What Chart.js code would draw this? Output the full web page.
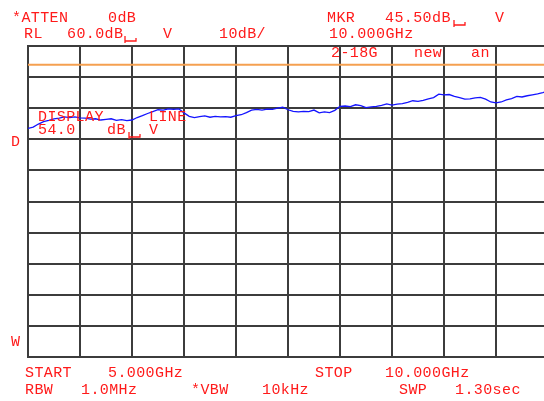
<!DOCTYPE html>
<html>
<head>
<meta charset="utf-8">
<script src="https://cdn.jsdelivr.net/npm/chart.js@4.4.1/dist/chart.umd.min.js"></script>
<style>
  html, body { margin: 0; padding: 0; background: #fff; overflow: hidden; }
  canvas { display: block; }
</style>
</head>
<body>
<canvas id="specChart" width="550" height="401"></canvas>
<script>
// Analyzer settings
const startGHz = 5.0;
const stopGHz = 10.0;
const refLevel = 60.0;
const dbPerDiv = 10;
const displayLine = 54.0;
const markerDb = 45.50;
const markerGHz = 10.0;

// Trace, every 50 MHz
const freqGHz = [
    5.00, 5.05, 5.10, 5.15, 5.20, 5.25, 5.30, 5.35, 5.40, 5.45,
    5.50, 5.55, 5.60, 5.65, 5.70, 5.75, 5.80, 5.85, 5.90, 5.95,
    6.00, 6.05, 6.10, 6.15, 6.20, 6.25, 6.30, 6.35, 6.40, 6.45,
    6.50, 6.55, 6.60, 6.65, 6.70, 6.75, 6.80, 6.85, 6.90, 6.95,
    7.00, 7.05, 7.10, 7.15, 7.20, 7.25, 7.30, 7.35, 7.40, 7.45,
    7.50, 7.55, 7.60, 7.65, 7.70, 7.75, 7.80, 7.85, 7.90, 7.95,
    8.00, 8.05, 8.10, 8.15, 8.20, 8.25, 8.30, 8.35, 8.40, 8.45,
    8.50, 8.55, 8.60, 8.65, 8.70, 8.75, 8.80, 8.85, 8.90, 8.95,
    9.00, 9.05, 9.10, 9.15, 9.20, 9.25, 9.30, 9.35, 9.40, 9.45,
    9.50, 9.55, 9.60, 9.65, 9.70, 9.75, 9.80, 9.85, 9.90, 9.95,
    10.00
];
const levelDb = [
    33.5, 33.9, 34.9, 35.7, 36.1, 36.6, 36.8, 37.2, 37.0, 37.2,
    36.9, 36.8, 36.5, 36.6, 36.2, 36.4, 36.6, 36.1, 36.3, 36.0,
    36.2, 37.0, 37.6, 38.3, 38.9, 39.5, 39.4, 39.8, 39.6, 39.8,
    38.5, 37.4, 37.0, 37.3, 37.5, 37.1, 37.4, 37.2, 37.3, 37.1,
    37.6, 37.9, 38.6, 39.4, 39.6, 39.4, 39.7, 39.6, 40.0, 40.3,
    39.5, 39.0, 38.8, 39.0, 38.9, 39.4, 38.5, 38.8, 38.6, 39.3,
    40.6, 40.7, 40.5, 41.1, 40.8, 40.2, 40.4, 40.6, 40.9, 41.4,
    41.0, 41.3, 41.5, 41.9, 42.4, 42.2, 42.5, 43.0, 43.4, 44.5,
    44.3, 44.4, 43.8, 43.4, 42.9, 43.0, 43.3, 43.5, 42.9, 42.0,
    41.7, 42.0, 42.7, 43.1, 43.8, 43.6, 44.0, 44.3, 44.6, 45.0,
    45.5
];

const red = '#ff1a1a';
const gridColor = '#3c3c3c';

// Screen annotations
const screenText = [
    ['*ATTEN', 12, 22], ['0dB', 108, 22],
    ['RL', 24, 38], [refLevel.toFixed(1) + 'dB', 67, 38], ['V', 163, 38], [dbPerDiv + 'dB/', 219, 38],
    ['MKR', 327, 22], [markerDb.toFixed(2) + 'dB', 385, 22], ['V', 495, 22],
    [markerGHz.toFixed(3) + 'GHz', 329, 38],
    ['2-18G', 331, 57], ['new', 414, 57], ['an', 471, 57],
    ['DISPLAY', 38, 121], ['LINE', 149, 121],
    [displayLine.toFixed(1), 38, 134], ['dB', 107, 134], ['V', 149, 134],
    ['D', 11, 146], ['W', 11, 346],
    ['START', 25, 377], [startGHz.toFixed(3) + 'GHz', 108, 377],
    ['STOP', 315, 377], [stopGHz.toFixed(3) + 'GHz', 385, 377],
    ['RBW', 25, 394], ['1.0MHz', 81, 394], ['*VBW', 191, 394], ['10kHz', 262, 394],
    ['SWP', 399, 394], ['1.30sec', 455, 394]
];
// little "unit" hooks after dB readouts
const hooks = [[125, 36], [454, 20], [129, 132]];

const textPlugin = {
    id: 'screenText',
    afterDraw(chart) {
        const ctx = chart.ctx;
        ctx.save();
        ctx.font = '15px "Liberation Mono", "DejaVu Sans Mono", monospace';
        ctx.letterSpacing = '0.4px';
        ctx.fillStyle = red;
        ctx.textBaseline = 'alphabetic';
        ctx.textAlign = 'left';
        screenText.forEach(([t, x, y]) => ctx.fillText(t, x, y));
        ctx.strokeStyle = red;
        ctx.lineWidth = 1.3;
        hooks.forEach(([x, y]) => {
            ctx.beginPath();
            ctx.moveTo(x, y);
            ctx.lineTo(x, y + 7);
            ctx.moveTo(x, y + 5);
            ctx.lineTo(x + 11, y + 5);
            ctx.lineTo(x + 11, y + 2);
            ctx.stroke();
        });
        ctx.restore();
    }
};

const ctx = document.getElementById('specChart').getContext('2d');
new Chart(ctx, {
    type: 'line',
    data: {
        datasets: [
            {
                label: 'Display line',
                data: [{ x: startGHz, y: displayLine }, { x: stopGHz, y: displayLine }],
                borderColor: '#f5a050',
                borderWidth: 2,
                pointRadius: 0
            },
            {
                label: 'Trace',
                data: freqGHz.map((f, i) => ({ x: f, y: levelDb[i] })),
                borderColor: '#1414ff',
                borderWidth: 1.3,
                pointRadius: 0,
                tension: 0
            }
        ]
    },
    options: {
        responsive: false,
        animation: false,
        layout: { padding: { left: 28, top: 46, right: 2, bottom: 44 } },
        plugins: {
            legend: { display: false },
            tooltip: { enabled: false }
        },
        scales: {
            x: {
                type: 'linear',
                min: startGHz,
                max: stopGHz,
                ticks: { display: false, stepSize: 0.5 },
                grid: { color: gridColor, lineWidth: 2, drawTicks: false },
                border: { color: gridColor, width: 2 }
            },
            y: {
                min: refLevel - 10 * dbPerDiv,
                max: refLevel,
                ticks: { display: false, stepSize: dbPerDiv },
                grid: { color: gridColor, lineWidth: 2, drawTicks: false },
                border: { color: gridColor, width: 2 }
            }
        }
    },
    plugins: [textPlugin]
});
</script>
</body>
</html>
